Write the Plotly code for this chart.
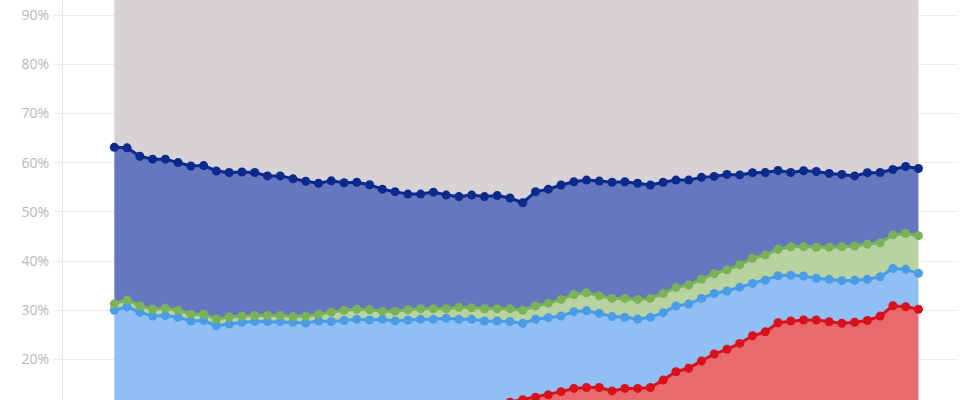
import plotly.graph_objects as go

periods = list(range(64))

# cumulative stacked shares (%)
navy_top = [63.1, 63.0, 61.3, 60.7, 60.7, 60.0, 59.3, 59.4, 58.3, 58.0, 58.1, 58.0, 57.3, 57.3, 56.7, 56.2,
            55.8, 56.3, 55.9, 56.0, 55.5, 54.6, 54.1, 53.6, 53.6, 54.0, 53.4, 53.1, 53.4, 53.1, 53.3, 52.8,
            51.85, 54.1, 54.6, 55.45, 56.1, 56.45, 56.25, 56.0, 56.1, 55.8, 55.45, 56.0, 56.45, 56.45, 57.0, 57.2,
            57.6, 57.5, 57.95, 58.0, 58.4, 58.0, 58.35, 58.2, 57.8, 57.6, 57.3, 57.95, 58.0, 58.6, 59.2, 58.8]
green_top = [31.3, 32.1, 30.9, 30.2, 30.4, 30.0, 29.2, 29.2, 28.2, 28.6, 28.8, 28.9, 29.0, 28.9, 28.7, 28.8,
             29.2, 29.6, 30.0, 30.2, 30.1, 29.8, 29.8, 30.1, 30.3, 30.3, 30.3, 30.6, 30.5, 30.3, 30.3, 30.3,
             30.0, 30.85, 31.4, 32.2, 33.2, 33.55, 32.9, 32.4, 32.4, 32.2, 32.4, 33.4, 34.6, 35.1, 36.3, 37.4,
             38.2, 39.2, 40.55, 41.2, 42.4, 42.9, 42.9, 42.8, 42.8, 42.9, 43.05, 43.4, 43.7, 45.3, 45.6, 45.15]
blue_top = [30.0, 30.7, 29.6, 28.8, 28.9, 28.55, 27.8, 27.9, 26.85, 27.2, 27.55, 27.7, 27.7, 27.7, 27.55, 27.4,
            27.8, 27.7, 27.9, 28.15, 28.0, 28.15, 27.8, 28.0, 28.15, 28.15, 28.35, 28.15, 28.15, 27.8, 27.8, 27.7,
            27.35, 28.15, 28.5, 28.8, 29.7, 29.9, 29.35, 28.7, 28.55, 28.2, 28.55, 29.5, 30.85, 31.25, 32.4, 33.4,
            33.9, 34.65, 35.45, 36.1, 37.0, 37.1, 36.95, 36.5, 36.3, 36.0, 36.1, 36.3, 36.8, 38.5, 38.3, 37.5]
red_top = [9.6, 9.8, 9.7, 9.5, 9.6, 9.4, 9.3, 9.4, 9.2, 9.3, 9.4, 9.5, 9.5, 9.6, 9.5, 9.6,
           9.7, 9.8, 9.8, 9.9, 9.9, 10.0, 10.0, 10.1, 10.1, 10.2, 10.2, 10.3, 10.4, 10.5, 10.8, 11.3,
           11.8, 12.3, 12.8, 13.45, 14.1, 14.3, 14.3, 13.6, 14.1, 14.1, 14.3, 15.8, 17.5, 18.2, 19.7, 21.1,
           22.05, 23.25, 24.8, 25.6, 27.45, 27.8, 28.0, 28.0, 27.65, 27.35, 27.55, 27.9, 28.8, 30.9, 30.7, 30.2]
total = [100] * 64

y_ticks = [20, 30, 40, 50, 60, 70, 80, 90]
y_tick_text = ["20%", "30%", "40%", "50%", "60%", "70%", "80%", "90%"]

series = [
    ("red", red_top, "#d8121d", "#e86a6c", "tozeroy"),
    ("light blue", blue_top, "#4a9ce6", "#90bff5", "tonexty"),
    ("green", green_top, "#7ab357", "#b8d39f", "tonexty"),
    ("navy", navy_top, "#0b2a8c", "#6577bf", "tonexty"),
]

fig = go.Figure()
for name, vals, lc, fc, fill in series:
    fig.add_trace(go.Scatter(
        x=periods, y=vals, name=name, mode="lines+markers",
        line=dict(color=lc, width=3),
        marker=dict(color=lc, size=9),
        fill=fill, fillcolor=fc,
    ))
fig.add_trace(go.Scatter(
    x=periods, y=total, name="rest", mode="lines",
    line=dict(width=0, color="#d6d2d6"),
    fill="tonexty", fillcolor="#d6d2d6",
))

fig.update_layout(
    width=980, height=400,
    margin=dict(l=63, r=22, t=0, b=0),
    paper_bgcolor="white", plot_bgcolor="white",
    showlegend=False,
    font=dict(family="Open Sans", size=14, color="#b8b8b8"),
    xaxis=dict(range=[-4.02, 66.1], showticklabels=False, showgrid=False,
               zeroline=False, ticks=""),
    yaxis=dict(range=[11.75, 93.05], tickvals=y_ticks, ticktext=y_tick_text,
               showgrid=True, gridcolor="#ececec", gridwidth=1,
               zeroline=False, showline=True, linecolor="#e8e8e8", linewidth=1,
               ticks="outside", ticklen=8, tickcolor="#ececec",
               ticklabelstandoff=2),
)

fig.write_html("out.html",
               config={"displayModeBar": False},
               post_script="document.body.style.margin='0';document.body.style.overflow='hidden';")
